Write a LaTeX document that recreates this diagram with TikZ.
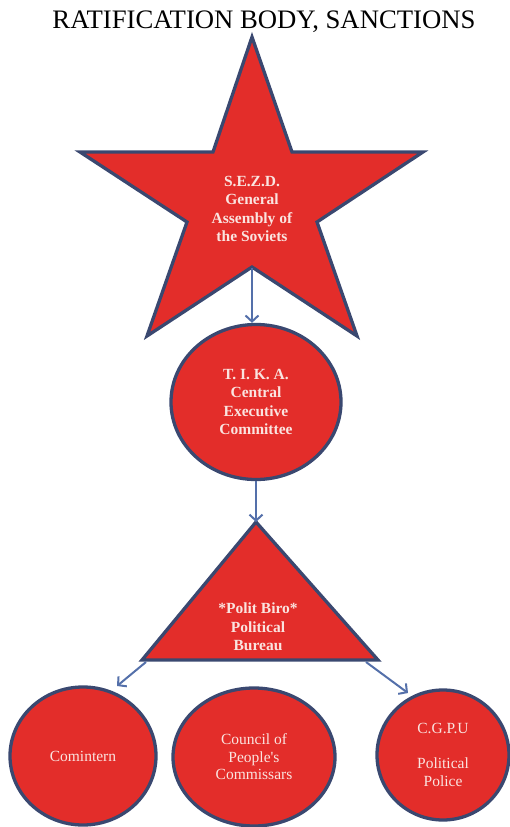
\documentclass[tikz,border=0pt]{standalone}
\usepackage{fontspec}
\setmainfont{Liberation Serif}
\usetikzlibrary{shapes.geometric,arrows.meta}
\definecolor{fillred}{RGB}{227,45,42}
\definecolor{edgeblue}{RGB}{58,72,112}
\definecolor{arrowblue}{RGB}{84,112,170}
\definecolor{txtpink}{RGB}{250,228,224}
\begin{document}
\begin{tikzpicture}[x=1pt,y=-1pt,
  shapeline/.style={fill=fillred,draw=edgeblue,line width=3.3pt,line join=miter},
  oval/.style={ellipse,shapeline,inner sep=0pt},
  boldlabel/.style={text=txtpink,font=\fontsize{15.5}{18.5}\selectfont\bfseries,align=center},
  plainlabel/.style={text=txtpink,font=\fontsize{15.5}{17.5}\selectfont,align=center},
  link/.style={draw=arrowblue,line width=2pt,-{Straight Barb[length=6pt,width=13pt]}}]
\useasboundingbox (0,0) rectangle (509,827);
% title
\node[anchor=base,font=\fontsize{26.7}{30}\selectfont] (title) at (264,28) {RATIFICATION BODY, SANCTIONS};
% star
\draw[shapeline] (252,37) -- (292,152) -- (423,152) -- (317,222) -- (357,336) -- (252,267) -- (147,336) -- (187,222) -- (80,152) -- (213,152) -- cycle;
\coordinate (starbot) at (252,268);
\node[boldlabel] (star) at (252,209) {S.E.Z.D.\\General\\Assembly of\\the Soviets};
% TIKA
\node[oval,minimum width=170pt,minimum height=155pt,boldlabel] (tika) at (256,402) {T. I. K. A.\\Central\\Executive\\Committee};
% triangle
\coordinate (triapex) at (256,522);
\coordinate (trileft) at (142,660);
\coordinate (triright) at (378,660);
\draw[shapeline] (triapex) -- (triright) -- (trileft) -- cycle;
\node[boldlabel] (polit) at (258,627) {*Polit Biro*\\Political\\Bureau};
% bottom
\node[oval,minimum width=146pt,minimum height=138pt,plainlabel] (comintern) at (83,756) {Comintern};
\node[oval,minimum width=162pt,minimum height=138pt,plainlabel] (council) at (254,757) {Council of\\People\textquotesingle s\\Commissars};
\node[oval,minimum width=132pt,minimum height=130pt,plainlabel] (cgpu) at (443,755) {C.G.P.U\\[17.5pt]Political\\Police};
% connectors
\draw[link] (starbot) -- (starbot |- tika.north);
\draw[link] (tika.south) -- (triapex);
\coordinate (leftstart) at (146,662);
\coordinate (lefttip) at (117,686);
\coordinate (rightstart) at (366,662);
\coordinate (righttip) at (408,693);
\draw[link] (leftstart) -- (lefttip);
\draw[link] (rightstart) -- (righttip);
\end{tikzpicture}
\end{document}
